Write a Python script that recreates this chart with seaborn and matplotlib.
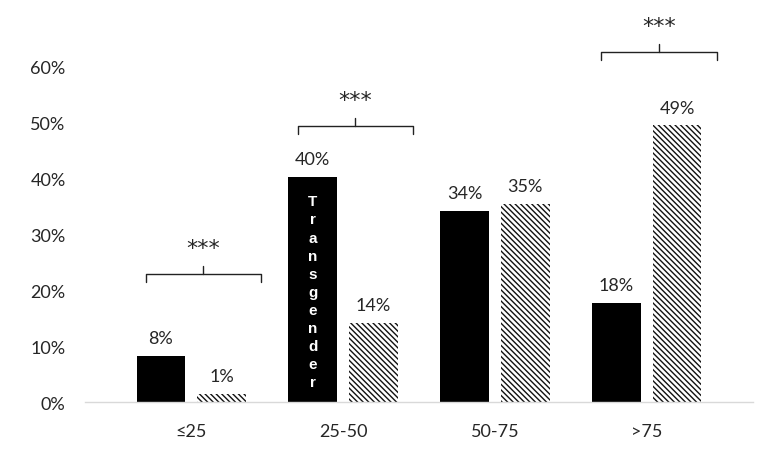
import numpy as np
import pandas as pd
import seaborn as sns
import matplotlib.pyplot as plt

# Data
categories = ["≤25", "25-50", "50-75", ">75"]
groups = ["Transgender", "Cisgender"]
transgender = [0.083, 0.402, 0.342, 0.177]
cisgender = [0.014, 0.141, 0.354, 0.494]
trans_labels = ["8%", "40%", "34%", "18%"]
cis_labels = ["1%", "14%", "35%", "49%"]
sig_labels = ["***", "***", "", "***"]
bracket_y = [0.229, 0.493, None, 0.625]

df = pd.DataFrame({
    "category": categories * 2,
    "group": [groups[0]] * 4 + [groups[1]] * 4,
    "value": transgender + cisgender,
})

sns.set_style("white")
plt.rcParams["font.family"] = ["Lato", "DejaVu Sans"]
plt.rcParams["hatch.linewidth"] = 1.0

fig = plt.figure(figsize=(7.57, 4.52), dpi=100)
ax = fig.add_axes([0.1123, 0.1084, 0.8824, 0.8916])

sns.barplot(
    data=df, x="category", y="value", hue="group",
    palette=["black", "white"], width=0.8, gap=0.2,
    saturation=1, legend=False, ax=ax,
)

# hatched second series
for bar in ax.containers[1]:
    bar.set_hatch("\\" * 6)
    bar.set_edgecolor("#111111")
    bar.set_linewidth(0)
for bar in ax.containers[0]:
    bar.set_linewidth(0)

ax.bar_label(ax.containers[0], labels=trans_labels, padding=7, fontsize=13)
ax.bar_label(ax.containers[1], labels=cis_labels, padding=7, fontsize=13)

# significance brackets
for i, (lab, by) in enumerate(zip(sig_labels, bracket_y)):
    if not lab:
        continue
    c = i + 0.08
    h = 0.38
    d = 0.014
    ax.plot([c - h, c - h, c + h, c + h], [by - d, by, by, by - d],
            color="#222222", lw=1, clip_on=False)
    ax.plot([c, c], [by, by + d], color="#222222", lw=1, clip_on=False)
    ax.text(c, by + 0.047, lab, ha="center", va="center",
            fontsize=16, family="DejaVu Sans")

# vertical series name inside first black bar
b = ax.containers[0][1]
ax.text(b.get_x() + b.get_width() / 2, 0.197, "\n".join("Transgender"),
        ha="center", va="center", color="white", fontsize=11,
        fontweight="bold", family="Liberation Sans", linespacing=1.37)

ax.set_xlim(-0.7, 3.7)
ax.set_ylim(0, 0.72)
ax.set_yticks(np.arange(0, 0.61, 0.1))
ax.set_yticklabels([f"{int(round(v * 100))}%" for v in np.arange(0, 0.61, 0.1)])
ax.tick_params(axis="y", length=0, pad=14, labelsize=13)
ax.tick_params(axis="x", length=0, pad=15, labelsize=13)
ax.set_xlabel("")
ax.set_ylabel("")

for s in ["top", "right", "left"]:
    ax.spines[s].set_visible(False)
ax.spines["bottom"].set_color("#d9d9d9")
ax.spines["bottom"].set_linewidth(1)

plt.savefig("out.png", dpi=100)
